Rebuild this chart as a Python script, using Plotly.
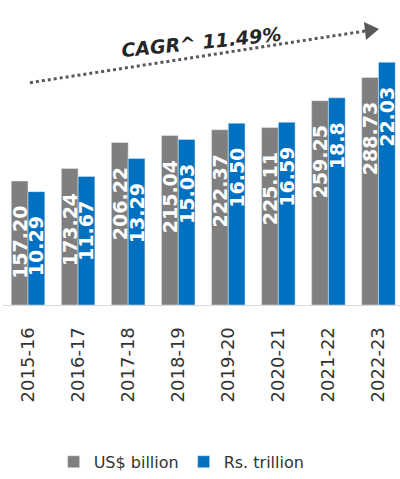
import plotly.graph_objects as go

years = ["2015-16", "2016-17", "2017-18", "2018-19", "2019-20", "2020-21", "2021-22", "2022-23"]
usd_billion = [157.20, 173.24, 206.22, 215.04, 222.37, 225.11, 259.25, 288.73]
rs_trillion = [10.29, 11.67, 13.29, 15.03, 16.50, 16.59, 18.8, 22.03]
rs_labels = ["10.29", "11.67", "13.29", "15.03", "16.50", "16.59", "18.8", "22.03"]
usd_labels = ["%.2f" % v for v in usd_billion]

GRAY = "#7f7f7f"
BLUE = "#0070c0"
PAD = "\u00a0\u2800"

label_font = dict(family="DejaVu Sans", size=19, color="white", weight="bold")

fig = go.Figure()
fig.add_trace(go.Bar(
    x=years, y=usd_billion, name="US$ billion", marker_color=GRAY,
    text=[t + PAD for t in usd_labels], textposition="inside", insidetextanchor="end",
    textangle=-90, textfont=label_font, yaxis="y", offsetgroup="a",
))
fig.add_trace(go.Bar(
    x=years, y=rs_trillion, name="Rs. trillion", marker_color=BLUE,
    text=[t + PAD for t in rs_labels], textposition="inside", insidetextanchor="end",
    textangle=-90, textfont=label_font, yaxis="y2", offsetgroup="b",
))

W, H = 400, 479
L, R, T, B = 3, 0, 37, 172
pw, ph = W - L - R, H - T - B

def px(x):
    return (x - L) / pw

def py(y):
    return (H - B - y) / ph

fig.update_layout(
    width=W, height=H,
    margin=dict(l=L, r=R, t=T, b=B),
    paper_bgcolor="white", plot_bgcolor="white",
    barmode="group", bargap=0.33, bargroupgap=0,
    uniformtext=dict(minsize=19, mode="show"),
    xaxis=dict(
        range=[-0.5, 7.43], tickangle=-90, showgrid=False,
        tickfont=dict(family="DejaVu Sans", size=18, color="#333333"),
        showline=True, linecolor="#d9d9d9", linewidth=1, ticks="",
        ticklabelstandoff=14,
    ),
    yaxis=dict(range=[0, 340], visible=False, showgrid=False),
    yaxis2=dict(range=[0, 270 / 11.1], visible=False, overlaying="y", showgrid=False),
    showlegend=True,
    legend=dict(
        orientation="h", x=0.45, xanchor="center", y=py(465), yanchor="middle",
        font=dict(family="DejaVu Sans", size=16, color="#333333"),
        itemwidth=30, tracegroupgap=0,
    ),
    shapes=[
        dict(type="line", xref="paper", yref="paper",
             x0=px(30), y0=py(83), x1=px(365), y1=py(31),
             line=dict(color="#595959", width=3, dash="dot")),
        dict(type="path", xref="paper", yref="paper",
             path="M %f,%f L %f,%f L %f,%f Z" % (px(364), py(22), px(366), py(40), px(379), py(29)),
             fillcolor="#595959", line=dict(color="#595959", width=0)),
    ],
    annotations=[
        dict(text="<b><i>CAGR^ 11.49%</i></b>", xref="paper", yref="paper",
             x=px(201), y=py(42), xanchor="center", yanchor="middle",
             showarrow=False, textangle=-6,
             font=dict(family="DejaVu Sans", size=19, color="#262626")),
    ],
)

fig.write_html(
    "out.html",
    config={"displayModeBar": False},
    post_script="document.body.style.margin='0px';document.body.style.overflow='hidden';",
)
